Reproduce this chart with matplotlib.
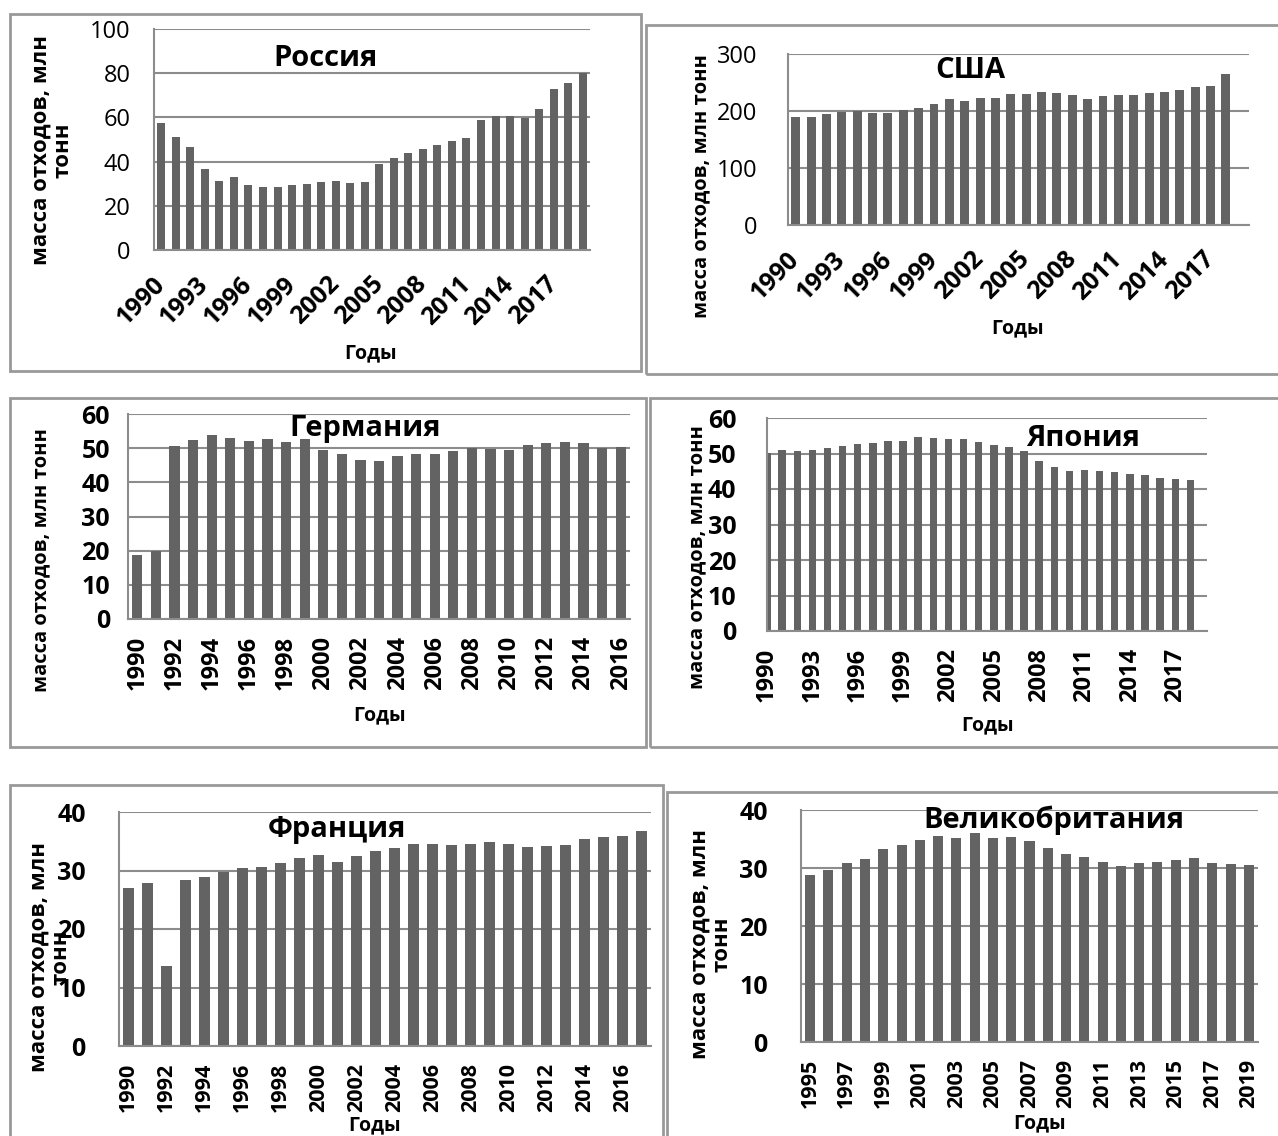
import matplotlib

matplotlib.use("Agg")
import matplotlib.pyplot as plt
from matplotlib.patches import Rectangle

W, H = 1278, 1136
FONT = ["Open Sans", "DejaVu Sans"]
BAR = "#636363"
GRID = "#8c8c8c"
FRAME = "#999999"

# ---- values -----------------------------------------------------------
RU_YEARS = list(range(1990, 2020))
RU_MASS = [57.4, 51.3, 46.8, 36.8, 31.4, 33.2, 29.4, 28.7, 28.5, 29.4,
           30.0, 30.8, 31.4, 30.5, 30.8, 38.8, 41.7, 43.9, 45.6, 47.7,
           49.2, 50.6, 59.0, 60.7, 60.8, 59.8, 64.0, 72.9, 75.5, 80.3]

US_YEARS = list(range(1990, 2019))
US_MASS = [188.6, 188.6, 194.5, 197.4, 200.4, 196.3, 195.7, 202.1, 205.6, 212.1,
           220.3, 218.0, 222.0, 223.2, 229.6, 229.6, 232.6, 232.0, 228.5, 221.4,
           226.7, 227.9, 227.9, 230.8, 233.7, 237.3, 242.5, 243.1, 264.8]

DE_YEARS = list(range(1990, 2017))
DE_MASS = [18.8, 19.8, 50.7, 52.3, 53.9, 52.9, 52.2, 52.6, 51.8, 52.6,
           49.4, 48.3, 46.4, 46.2, 47.8, 48.2, 48.3, 49.1, 50.1, 49.8,
           49.4, 50.9, 51.5, 51.9, 51.6, 50.1, 50.4]

JP_YEARS = list(range(1990, 2019))
JP_MASS = [50.1, 51.0, 50.8, 51.0, 51.6, 52.1, 52.7, 52.9, 53.4, 53.5,
           54.7, 54.5, 54.0, 54.0, 53.2, 52.4, 51.9, 50.6, 47.8, 46.1,
           45.2, 45.3, 45.1, 44.7, 44.2, 43.9, 43.0, 42.7, 42.6]

FR_YEARS = list(range(1990, 2018))
FR_MASS = [27.0, 27.8, 13.7, 28.3, 28.9, 29.7, 30.4, 30.6, 31.2, 32.2,
           32.7, 31.4, 32.4, 33.3, 33.9, 34.6, 34.5, 34.4, 34.6, 34.8,
           34.5, 34.1, 34.2, 34.3, 35.3, 35.8, 35.9, 36.7]

UK_YEARS = list(range(1995, 2020))
UK_MASS = [28.8, 29.7, 30.9, 31.6, 33.3, 33.9, 34.8, 35.5, 35.2, 36.1,
           35.1, 35.4, 34.7, 33.4, 32.4, 31.9, 31.0, 30.4, 30.8, 31.0,
           31.4, 31.7, 30.8, 30.7, 30.6]

YLAB1 = "масса отходов, млн тонн"
YLAB2 = "масса отходов, млн\nтонн"
XLAB = "Годы"


def fx(x):
    return x / W


def fy(y):
    return 1 - y / H


def frame(fig, x0, y0, x1, y1):
    fig.patches.append(Rectangle((fx(x0), fy(y1)), fx(x1 - x0), (y1 - y0) / H,
                                 transform=fig.transFigure, fill=False,
                                 ec=FRAME, lw=2.0))


def panel(fig, box, years, vals, ymax, ystep, every, rot, xlim,
          title, tpos, ylab, ypos, xpos, bold_y, ypad, labsize, xsize,
          width=0.55):
    x0, y0, x1, y1 = box
    ax = fig.add_axes([fx(x0), fy(y1), fx(x1 - x0), (y1 - y0) / H])
    idx = list(range(len(years)))
    ax.bar(idx, vals, width=width, color=BAR, zorder=2)
    ax.set_ylim(0, ymax)
    ax.set_xlim(*xlim)
    ax.set_yticks(range(0, ymax + 1, ystep))
    ax.yaxis.grid(True, color=GRID, lw=1.5, zorder=0)
    ax.set_axisbelow(True)
    for s in ("right", "top"):
        ax.spines[s].set_visible(False)
    for s in ("left", "bottom"):
        ax.spines[s].set_color(GRID)
        ax.spines[s].set_linewidth(1.5)
    ticks = idx[::every]
    ax.set_xticks(ticks)
    labels = [str(years[i]) for i in ticks]
    if rot == 45:
        ax.set_xticklabels(labels, rotation=45, ha="right", va="center",
                           rotation_mode="anchor", fontsize=xsize,
                           fontweight="bold", family=FONT)
        ax.tick_params(axis="x", pad=22)
    else:
        ax.set_xticklabels(labels, rotation=90, ha="center", va="top",
                           fontsize=xsize, fontweight="bold", family=FONT)
        ax.tick_params(axis="x", pad=12)
    ax.tick_params(axis="both", length=0)
    ax.tick_params(axis="y", pad=ypad)
    for t in ax.get_yticklabels():
        t.set_family(FONT)
        t.set_fontsize(18 if bold_y else 17)
        t.set_fontweight("bold" if bold_y else "normal")
    fig.text(fx(tpos[0]), fy(tpos[1]), title, ha="center", va="center",
             fontsize=21, fontweight="bold", family=FONT, zorder=5)
    fig.text(fx(ypos[0]), fy(ypos[1]), ylab, ha="center", va="center",
             rotation=90, ma="center", fontsize=labsize, fontweight="bold",
             family=FONT, linespacing=1.1)
    fig.text(fx(xpos[0]), fy(xpos[1]), XLAB, ha="center", va="center",
             fontsize=14, fontweight="bold", family=FONT)
    return ax


def main(out="out.png"):
    fig = plt.figure(figsize=(W / 100, H / 100), dpi=100)
    fig.patch.set_facecolor("white")

    frame(fig, 10, 14, 641, 371)
    frame(fig, 646, 25, 1300, 374)
    frame(fig, 10, 398, 646, 747)
    frame(fig, 650, 398, 1300, 747)
    frame(fig, 10, 785, 663, 1160)
    frame(fig, 667, 792, 1300, 1160)

    panel(fig, (154, 29, 590, 250), RU_YEARS, RU_MASS, 100, 20, 3, 45,
          (-0.5, 29.5), "Россия", (326, 58), YLAB2, (52, 150), (371, 353),
          False, 17, 16, 18)
    panel(fig, (788, 54, 1249, 225), US_YEARS, US_MASS, 300, 100, 3, 45,
          (-0.5, 29.5), "США", (970, 70), YLAB1, (701, 186), (1018, 328),
          False, 22, 14.5, 18, width=0.58)
    panel(fig, (128, 414, 630, 619), DE_YEARS, DE_MASS, 60, 10, 2, 90,
          (-0.5, 26.5), "Германия", (365, 428), YLAB1, (41, 560), (380, 715),
          True, 13, 14.5, 17)
    panel(fig, (767, 418, 1207, 631), JP_YEARS, JP_MASS, 60, 10, 3, 90,
          (0, 29.1), "Япония", (1083, 438), YLAB1, (697, 557), (988, 725),
          True, 22, 14.5, 17, width=0.49)
    panel(fig, (119, 812, 651, 1046), FR_YEARS, FR_MASS, 40, 10, 2, 90,
          (-0.5, 27.5), "Франция", (337, 830), YLAB2, (50, 957), (375, 1125),
          True, 24, 16, 15.5)
    panel(fig, (801, 810, 1258, 1042), UK_YEARS, UK_MASS, 40, 10, 2, 90,
          (-0.5, 24.5), "Великобритания", (1054, 820), YLAB2, (711, 944),
          (1040, 1123), True, 24, 16, 15.5)

    fig.savefig(out, dpi=100, facecolor="white")


if __name__ == "__main__":
    main()
